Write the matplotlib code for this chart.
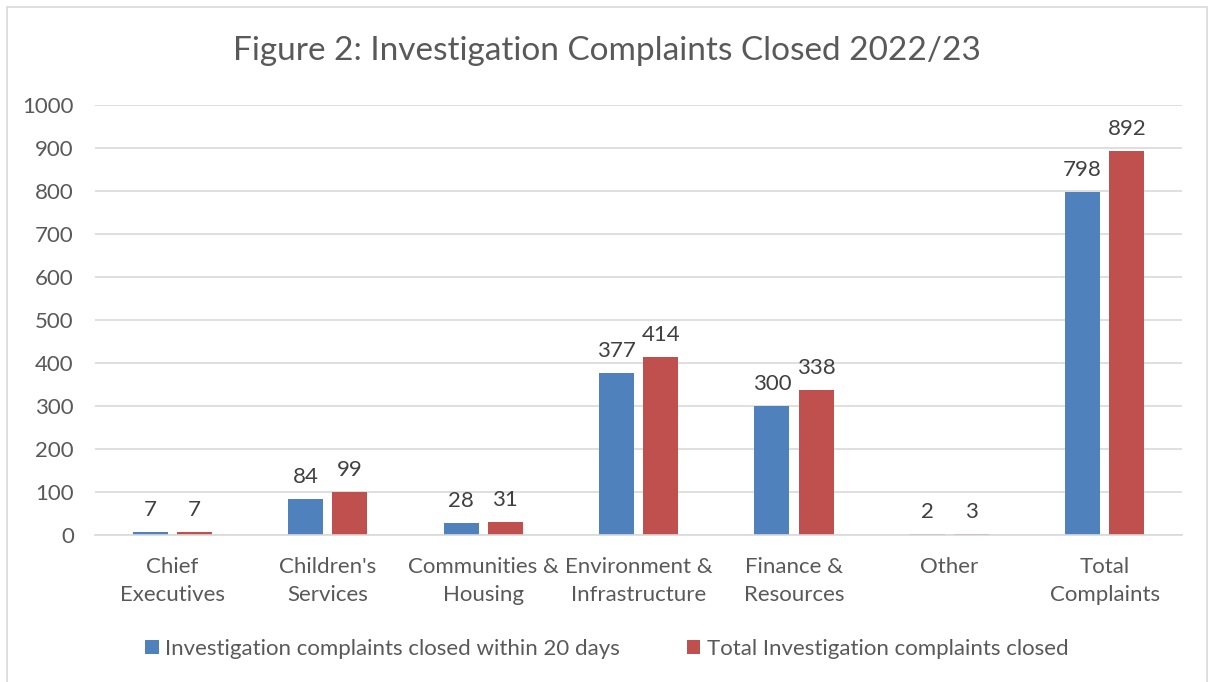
import matplotlib.pyplot as plt
import numpy as np
from matplotlib.patches import Rectangle

categories = ['Chief\nExecutives', "Children's\nServices", 'Communities &\nHousing',
              'Environment &\nInfrastructure', 'Finance &\nResources', 'Other', 'Total\nComplaints']
within_20 = [7, 84, 28, 377, 300, 2, 798]
total_closed = [7, 99, 31, 414, 338, 3, 892]
series_names = ['Investigation complaints closed within 20 days', 'Total Investigation complaints closed']

plt.rcParams['font.family'] = ['Lato', 'DejaVu Sans']

fig = plt.figure(figsize=(12.14, 6.82), dpi=100)
ax = fig.add_axes([0.078, 0.2155, 0.896, 0.6305])

x = np.arange(len(categories))
w = 0.225
off = 0.142
b1 = ax.bar(x - off, within_20, w, color='#4F81BD', label=series_names[0])
b2 = ax.bar(x + off, total_closed, w, color='#C0504D', label=series_names[1])

for bars in (b1, b2):
    for r in bars:
        ax.text(r.get_x() + r.get_width() / 2, r.get_height() + 28, str(int(r.get_height())),
                ha='center', va='bottom', fontsize=16, color='#404040')

ax.set_xlim(-0.5, len(categories) - 0.5)
ax.set_ylim(0, 1000)
ax.set_yticks(range(0, 1001, 100))
ax.set_xticks(x)
ax.set_xticklabels(categories, fontsize=16, color='#595959', linespacing=1.5)
ax.tick_params(axis='y', labelsize=16, labelcolor='#595959', length=0, pad=15)
ax.tick_params(axis='x', length=0, pad=15.5)
ax.grid(axis='y', color='#D9D9D9', linewidth=1.2)
ax.set_axisbelow(True)
for s in ['top', 'right', 'left']:
    ax.spines[s].set_visible(False)
ax.spines['bottom'].set_color('#D9D9D9')
ax.spines['bottom'].set_linewidth(1.2)

fig.text(0.5, 0.925, 'Figure 2: Investigation Complaints Closed 2022/23', ha='center', va='center',
         fontsize=24, color='#595959')

fig.legend(loc='center', bbox_to_anchor=(0.5, 0.048), ncol=2, frameon=False, fontsize=16,
           labelcolor='#595959', handlelength=0.6, handleheight=0.6, handletextpad=0.3,
           columnspacing=3.0)

fig.patches.append(Rectangle((0.006, -0.01), 0.988, 1.0, transform=fig.transFigure,
                             fill=False, edgecolor='#D9D9D9', linewidth=1.2))

fig.savefig('out.png', dpi=100)
